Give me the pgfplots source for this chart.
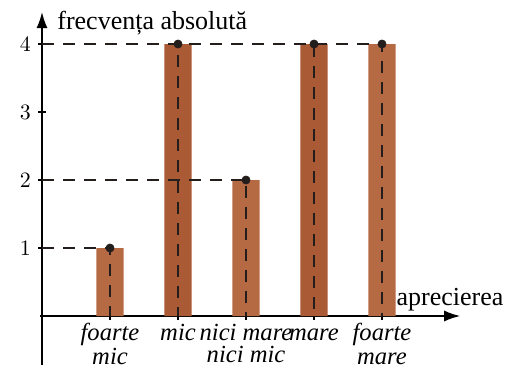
\documentclass[border=0pt]{standalone}
\usepackage{fontspec}
\setmainfont{Liberation Serif}
\usepackage{pgfplots}
\pgfplotsset{compat=1.18}
\usetikzlibrary{arrows.meta}
\definecolor{bardark}{RGB}{170,90,52}
\definecolor{barlight}{RGB}{181,106,68}
\definecolor{dashc}{RGB}{35,30,28}
\newcommand{\lr}{\rule{0pt}{8.4pt}}
\begin{document}
\begin{tikzpicture}
\begin{axis}[
  x=34pt, y=34pt,
  axis lines=middle,
  xmin=-0.03, xmax=6.15,
  ymin=-0.72, ymax=4.47,
  axis line style={line width=0.8pt, -{Latex[length=8pt,width=5.5pt]}},
  xtick={1,2,3,4,5},
  xticklabels={{\lr foarte\\\lr mic},{\lr mic},{\lr nici mare\\\lr nici mic},{\lr mare},{\lr foarte\\\lr mare}},
  x tick label style={font=\fontsize{12.3}{11}\selectfont\itshape, align=center, anchor=north, inner sep=0pt, yshift=-1.6pt},
  ytick={1,2,3,4},
  y tick label style={font=\fontsize{11}{13}\selectfont},
  tick align=center,
  major tick length=4pt,
  tick style={line width=0.7pt, black},
  clip=false,
]
\addplot[ybar, bar width=0.4, bar shift=0pt, fill=barlight, draw=none] coordinates {(1,1) (3,2) (5,4)};
\addplot[ybar, bar width=0.4, bar shift=0pt, fill=bardark, draw=none] coordinates {(2,4) (4,4)};
\addplot[dashc, line width=0.75pt, dash pattern=on 6pt off 4.5pt] coordinates {(0,1) (1,1) (1,0)};
\addplot[dashc, line width=0.75pt, dash pattern=on 6pt off 4.5pt] coordinates {(0,4) (2,4) (2,0)};
\addplot[dashc, line width=0.75pt, dash pattern=on 6pt off 4.5pt] coordinates {(0,2) (3,2) (3,0)};
\addplot[dashc, line width=0.75pt, dash pattern=on 6pt off 4.5pt] coordinates {(0,4) (4,4) (4,0)};
\addplot[dashc, line width=0.75pt, dash pattern=on 6pt off 4.5pt] coordinates {(0,4) (5,4) (5,0)};
\addplot[only marks, mark=*, mark size=2pt, dashc] coordinates {(1,1) (2,4) (3,2) (4,4) (5,4)};
\node[anchor=base west, inner sep=0pt, font=\fontsize{13}{15}\selectfont] at (axis cs:0.22,4.21) {frecvența absolută};
\node[anchor=base west, inner sep=0pt, font=\fontsize{13}{15}\selectfont] at (axis cs:5.21,0.16) {aprecierea};
\coordinate (O) at (axis cs:0,0);
\end{axis}
\pgfresetboundingbox
\path[use as bounding box] (O) ++(-21pt,-24.5pt) rectangle ++(253.5pt,182.5pt);
\end{tikzpicture}
\end{document}
